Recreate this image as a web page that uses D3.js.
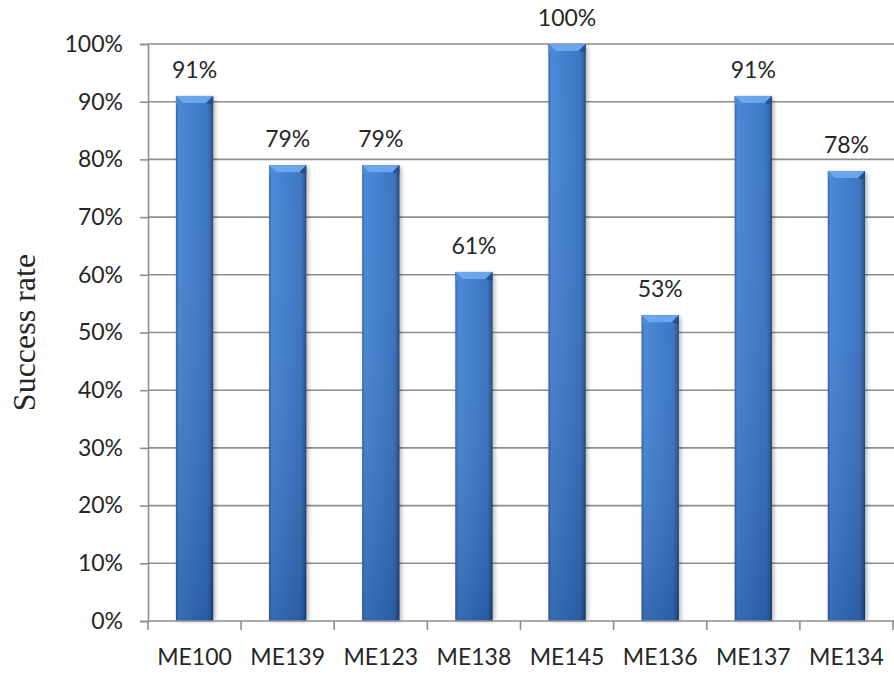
<!DOCTYPE html>
<html>
<head>
<meta charset="utf-8">
<script src="https://cdn.jsdelivr.net/npm/d3@7"></script>
<style>
  body { margin: 0; background: #fff; }
  text { fill: #262626; }
</style>
</head>
<body>
<svg id="chart"></svg>
<script>
const categories = ['ME100', 'ME139', 'ME123', 'ME138', 'ME145', 'ME136', 'ME137', 'ME134'];
const successRate = [0.91, 0.79, 0.79, 0.605, 1.00, 0.53, 0.91, 0.78];
const rateLabels = ['91%', '79%', '79%', '61%', '100%', '53%', '91%', '78%'];
const yTicks = [0, 0.1, 0.2, 0.3, 0.4, 0.5, 0.6, 0.7, 0.8, 0.9, 1.0];

const width = 894, height = 674;
const margin = { top: 44, right: 1, bottom: 53, left: 148 };
const font = 'Lato, "Open Sans", sans-serif';

const svg = d3.select('#chart')
  .attr('width', width)
  .attr('height', height);

const defs = svg.append('defs');

// bar body, lit from the left
const hGrad = defs.append('linearGradient')
  .attr('id', 'barH')
  .attr('x1', 0).attr('x2', 1).attr('y1', 0).attr('y2', 0);
[[0, '#2b5b9e'], [0.07, '#4282d4'], [0.45, '#3a79cb'], [0.85, '#326ebf'], [0.94, '#28599c'], [1, '#1a3b6b']]
  .forEach(s => hGrad.append('stop').attr('offset', s[0]).attr('stop-color', s[1]));

// darkening towards the bottom
const vGrad = defs.append('linearGradient')
  .attr('id', 'barV')
  .attr('x1', 0).attr('x2', 0).attr('y1', 0).attr('y2', 1);
vGrad.append('stop').attr('offset', 0).attr('stop-color', '#ffffff').attr('stop-opacity', 0.05);
vGrad.append('stop').attr('offset', 1).attr('stop-color', '#0a1e40').attr('stop-opacity', 0.22);

const blur = defs.append('filter').attr('id', 'shadow')
  .attr('x', '-50%').attr('y', '-10%').attr('width', '200%').attr('height', '120%');
blur.append('feGaussianBlur').attr('stdDeviation', 2);

const x = d3.scaleBand()
  .domain(categories)
  .range([margin.left, width - margin.right])
  .paddingInner(0.6)
  .paddingOuter(0.3);

const y = d3.scaleLinear()
  .domain([0, 1])
  .range([height - margin.bottom, margin.top]);

// gridlines
svg.append('g')
  .selectAll('line')
  .data(yTicks.slice(1))
  .join('line')
  .attr('x1', margin.left)
  .attr('x2', width)
  .attr('y1', d => y(d))
  .attr('y2', d => y(d))
  .attr('stroke', '#8e8e8e')
  .attr('stroke-width', 1.6);

const data = categories.map((c, i) => ({ cat: c, value: successRate[i], label: rateLabels[i] }));

const bars = svg.append('g')
  .selectAll('g')
  .data(data)
  .join('g');

// soft shadow
bars.append('rect')
  .attr('x', d => x(d.cat) + 2)
  .attr('y', d => y(d.value) + 2)
  .attr('width', x.bandwidth())
  .attr('height', d => y(0) - y(d.value) - 2)
  .attr('fill', '#000')
  .attr('opacity', 0.3)
  .attr('filter', 'url(#shadow)');

bars.append('rect')
  .attr('x', d => x(d.cat))
  .attr('y', d => y(d.value))
  .attr('width', x.bandwidth())
  .attr('height', d => y(0) - y(d.value))
  .attr('fill', 'url(#barH)');

bars.append('rect')
  .attr('x', d => x(d.cat))
  .attr('y', d => y(d.value))
  .attr('width', x.bandwidth())
  .attr('height', d => y(0) - y(d.value))
  .attr('fill', 'url(#barV)');

// bevel on the top
const bevel = 7;
bars.append('polygon')
  .attr('points', d => {
    const x0 = x(d.cat), x1 = x0 + x.bandwidth(), t = y(d.value);
    return [[x0, t], [x1, t], [x1 - bevel, t + bevel], [x0 + bevel, t + bevel]].join(' ');
  })
  .attr('fill', '#70aaf0')
  .attr('opacity', 0.9);

bars.append('polygon')
  .attr('points', d => {
    const x1 = x(d.cat) + x.bandwidth(), t = y(d.value);
    return [[x1, t], [x1, t + bevel + 2], [x1 - bevel, t + bevel]].join(' ');
  })
  .attr('fill', '#24508e');

bars.append('polygon')
  .attr('points', d => {
    const x0 = x(d.cat), t = y(d.value);
    return [[x0, t], [x0 + bevel, t + bevel], [x0, t + bevel + 2]].join(' ');
  })
  .attr('fill', '#4d8ad6');

// value labels
bars.append('text')
  .attr('x', d => x(d.cat) + x.bandwidth() / 2)
  .attr('y', d => y(d.value) - 18)
  .attr('text-anchor', 'middle')
  .style('font-family', font)
  .style('font-size', '23px')
  .text(d => d.label);

// y axis
const yAxis = d3.axisLeft(y)
  .tickValues(yTicks)
  .tickSize(8)
  .tickPadding(17)
  .tickFormat(d3.format('.0%'));

const gy = svg.append('g')
  .attr('transform', `translate(${margin.left},0)`)
  .call(yAxis);
gy.select('.domain').attr('stroke', '#8e8e8e').attr('stroke-width', 1.6);
gy.selectAll('.tick line').attr('stroke', '#8e8e8e').attr('stroke-width', 1.6);
gy.selectAll('.tick text')
  .style('font-family', font)
  .style('font-size', '23px')
  .attr('fill', '#262626');

// x axis: ticks between categories
const step = x.step();
const boundaries = d3.range(categories.length + 1).map(i => margin.left + i * step);

svg.append('line')
  .attr('x1', margin.left)
  .attr('x2', width)
  .attr('y1', y(0))
  .attr('y2', y(0))
  .attr('stroke', '#8e8e8e')
  .attr('stroke-width', 1.6);

svg.append('g')
  .selectAll('line')
  .data(boundaries)
  .join('line')
  .attr('x1', d => d)
  .attr('x2', d => d)
  .attr('y1', y(0))
  .attr('y2', y(0) + 9)
  .attr('stroke', '#8e8e8e')
  .attr('stroke-width', 1.6);

svg.append('g')
  .selectAll('text')
  .data(categories)
  .join('text')
  .attr('x', d => x(d) + x.bandwidth() / 2)
  .attr('y', 665)
  .attr('text-anchor', 'middle')
  .style('font-family', font)
  .style('font-size', '23px')
  .text(d => d);

// y title
svg.append('text')
  .attr('transform', `translate(35,${(y(0) + y(1)) / 2}) rotate(-90)`)
  .attr('text-anchor', 'middle')
  .style('font-family', '"Liberation Serif", "DejaVu Serif", serif')
  .style('font-size', '32px')
  .text('Success rate');
</script>
</body>
</html>
